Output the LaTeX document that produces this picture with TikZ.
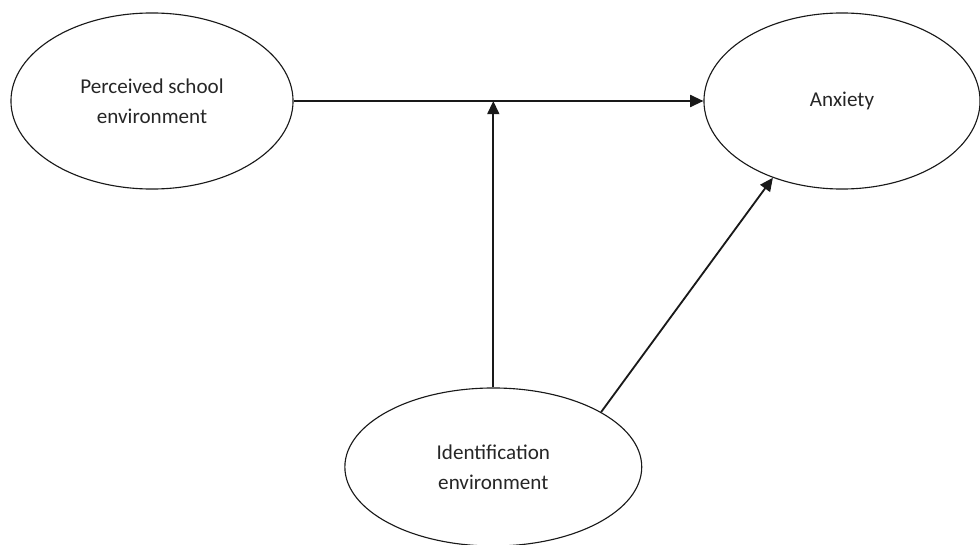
\documentclass[tikz,border=0pt]{standalone}
\usepackage{fontspec}
\setmainfont{Carlito}
\usetikzlibrary{arrows.meta, positioning, shapes.geometric}

\begin{document}
\begin{tikzpicture}[
        x=0.025cm, y=-0.025cm,
        >={Triangle[length=3.3mm, width=3mm]},
        every node/.style={ellipse, draw=black!90, line width=0.8pt, inner sep=0pt,
            align=center, font=\fontsize{15}{21.3}\selectfont, text=black!85},
        link/.style={->, draw=black!90, line width=1.3pt}
    ]
        \useasboundingbox (0,0) rectangle (980,545);

        % Variables
        \node [minimum width=7.05cm, minimum height=4.4cm] (perc) at (152,101) {Perceived school\\environment};
        \node [minimum width=6.9cm, minimum height=4.4cm] (anx) at (842,101) {Anxiety};
        \node [minimum width=7.42cm, minimum height=3.95cm] (ident) at (493.3,467) {Identification\\environment};
        \coordinate (mid) at (ident.north |- perc.east);

        % Paths
        \draw[link] (perc.east) -- (anx.west);
        \draw[link] (ident.north) -- (mid);
        \draw[link] (ident.27.5) -- (anx.228.6);
    \end{tikzpicture}
\end{document}
